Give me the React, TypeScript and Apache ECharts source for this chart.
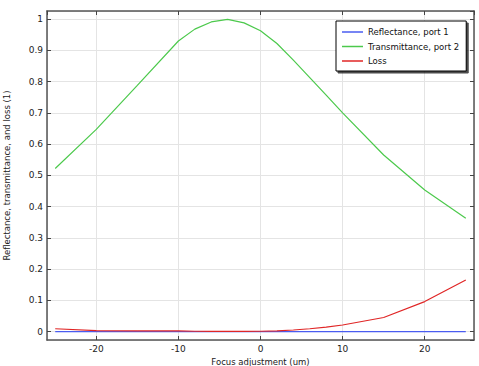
import React, { useEffect, useRef } from "react";
import * as echarts from "echarts";

const focus = [-25, -20, -15, -10, -8, -6, -4, -2, 0, 2, 4, 6, 8, 10, 15, 20, 25];
const reflectance = [0, 0, 0, 0, 0, 0, 0, 0, 0, 0, 0, 0, 0, 0, 0, 0, 0];
const transmittance = [0.522, 0.647, 0.788, 0.93, 0.968, 0.991, 0.999, 0.988, 0.963, 0.922, 0.869, 0.813, 0.757, 0.7, 0.565, 0.453, 0.363];
const loss = [0.009, 0.003, 0.002, 0.002, 0.001, 0.0005, 0.0005, 0.0005, 0.001, 0.002, 0.005, 0.009, 0.014, 0.021, 0.045, 0.096, 0.165];
const seriesNames = ["Reflectance, port 1", "Transmittance, port 2", "Loss"];

const FONT = "DejaVu Sans";

export default function App() {
  const ref = useRef<HTMLDivElement>(null);
  useEffect(() => {
    if (!ref.current) return;
    document.body.style.margin = "0";
    const chart = echarts.init(ref.current, null, { renderer: "svg" });
    const pts = (ys: number[]) => focus.map((x, i) => [x, ys[i]]);
    const frame = { show: true, onZero: false, lineStyle: { color: "#555", width: 1.5 } };
    const splitLine = { show: true, lineStyle: { color: "#e4e4e4", width: 1 } };
    const tick = { show: true, inside: true, length: 4, lineStyle: { color: "#444", width: 1 } };
    const xBase = { type: "value", min: -26, max: 26, splitNumber: 5 };
    const yBase = { type: "value", min: -0.027, max: 1.026, splitNumber: 10 };
    chart.setOption({
      animation: false,
      backgroundColor: "#fff",
      textStyle: { fontFamily: FONT },
      grid: { left: 47, right: 5, top: 11, bottom: 26, containLabel: false, outerBoundsMode: "none" },
      xAxis: [
        {
          ...xBase,
          position: "bottom",
          name: "Focus adjustment (um)",
          nameLocation: "middle",
          nameGap: 15,
          nameTextStyle: { fontFamily: FONT, fontSize: 8.5, color: "#222" },
          axisLine: frame,
          axisTick: tick,
          splitLine,
          axisLabel: { showMinLabel: false, showMaxLabel: false, margin: 4, fontFamily: FONT, fontSize: 9, color: "#222" },
        },
        {
          ...xBase,
          position: "top",
          axisLine: frame,
          axisTick: tick,
          splitLine: { show: false },
          axisLabel: { show: false },
        },
      ],
      yAxis: [
        {
          ...yBase,
          position: "left",
          name: "Reflectance, transmittance, and loss (1)",
          nameLocation: "middle",
          nameGap: 36,
          nameRotate: 90,
          nameTextStyle: { fontFamily: FONT, fontSize: 8.5, color: "#222" },
          axisLine: frame,
          axisTick: tick,
          splitLine,
          axisLabel: { showMinLabel: false, showMaxLabel: false, margin: 4, fontFamily: FONT, fontSize: 9, color: "#222" },
        },
        {
          ...yBase,
          position: "right",
          axisLine: frame,
          axisTick: tick,
          splitLine: { show: false },
          axisLabel: { show: false },
        },
      ],
      legend: {
        orient: "vertical",
        left: 336,
        top: 21,
        padding: [6, 7, 5, 6],
        icon: "rect",
        itemWidth: 21,
        itemHeight: 1.5,
        itemGap: 4.5,
        backgroundColor: "#fff",
        borderColor: "#000",
        borderWidth: 1,
        shadowColor: "rgba(0,0,0,0.7)",
        shadowBlur: 1,
        shadowOffsetX: 2,
        shadowOffsetY: 2,
        textStyle: { fontFamily: FONT, fontSize: 8.5, color: "#111", lineHeight: 10 },
        data: seriesNames,
      },
      series: [
        { name: seriesNames[0], type: "line", data: pts(reflectance), symbol: "none", lineStyle: { color: "#4a5cf0", width: 1.2 }, itemStyle: { color: "#4a5cf0" } },
        { name: seriesNames[1], type: "line", data: pts(transmittance), symbol: "none", lineStyle: { color: "#4cc94c", width: 1.2 }, itemStyle: { color: "#4cc94c" } },
        { name: seriesNames[2], type: "line", data: pts(loss), symbol: "none", lineStyle: { color: "#e02626", width: 1.2 }, itemStyle: { color: "#e02626" } },
      ],
    });
    return () => chart.dispose();
  }, []);
  return <div ref={ref} style={{ width: 479, height: 366 }} />;
}
